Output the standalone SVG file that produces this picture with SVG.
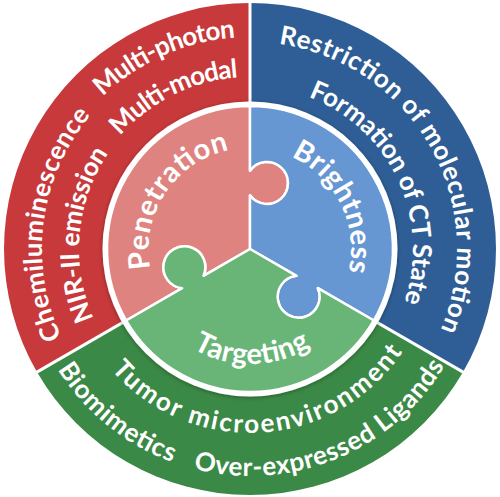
<svg xmlns="http://www.w3.org/2000/svg" xmlns:xlink="http://www.w3.org/1999/xlink" width="500" height="497" viewBox="0 0 500 497">
<defs>
<style>
.t{font-family:Lato,'Open Sans','DejaVu Sans',sans-serif;font-weight:700;fill:#fff}
.o{font-size:26px}
.i{font-size:29px}
.sep{stroke:#fff;stroke-width:3;fill:none}
.pc{stroke:#fff;stroke-width:2.5;stroke-linejoin:round}
</style>
<filter id="sh" x="-20%" y="-20%" width="140%" height="140%">
<feDropShadow dx="0" dy="1" stdDeviation="2" flood-color="#000" flood-opacity="0.35"/>
</filter>
<path id="piece" d="M0 0L-46.48 26.83A21 21 0 1 0 -67.84 39.17L-123.84 71.5A143 143 0 0 1 0 -143L0 -78.33A21 21 0 1 1 0 -53.67Z"/>
<path id="a1" d="M-147.27 -152.5A212 212 0 0 1 -14.79 -211.48"/>
<path id="a2" d="M-129.81 -112.85A172 172 0 0 1 -12 -171.58"/>
<path id="a3" d="M-188.51 87.9A208 208 0 0 1 -159.33 -133.7"/>
<path id="a4" d="M-156.21 69.55A171 171 0 0 1 -141.76 -95.62"/>
<path id="a5" d="M28.81 -204.99A207 207 0 0 1 190.54 80.88"/>
<path id="a6" d="M58.42 -152.18A163 163 0 0 1 154.12 53.07"/>
<path id="a7" d="M-99.9 17.6A101 101 0 0 1 -22.72 -98.41"/>
<path id="a8" d="M41.08 -92.27A101 101 0 0 1 98.41 22.72"/>
<path id="a9" d="M-57.5 99.6A115 115 0 0 0 60.94 97.53"/>
<path id="a10" d="M-138.86 120.72A184 184 0 0 0 152.54 102.89"/>
<path id="a11" d="M-192.5 120.29A227 227 0 0 0 -77.64 213.31"/>
<path id="a12" d="M-56.84 219.76A227 227 0 0 0 194.58 116.91"/>
</defs>
<g transform="translate(250,249)">
<g id="outer-red">
<path d="M0 0L-213.04 123A246 246 0 0 1 0 -246Z" fill="#C8393B"/>
<text class="t o"><textPath href="#a1" startOffset="50%" text-anchor="middle" textLength="148" lengthAdjust="spacing">Multi-photon</textPath></text>
<text class="t o"><textPath href="#a2" startOffset="50%" text-anchor="middle" textLength="135" lengthAdjust="spacing">Multi-modal</textPath></text>
<text class="t o"><textPath href="#a3" startOffset="50%" text-anchor="middle" textLength="236" lengthAdjust="spacing">Chemiluminescence</textPath></text>
<text class="t o"><textPath href="#a4" startOffset="50%" text-anchor="middle" textLength="173" lengthAdjust="spacing">NIR-II emission</textPath></text>
</g>
<g id="outer-blue">
<path d="M0 0L0 -246A246 246 0 0 1 213.04 123Z" fill="#2F5E96"/>
<text class="t o"><textPath href="#a5" startOffset="50%" text-anchor="middle" textLength="379" lengthAdjust="spacing">Restriction of molecular motion</textPath></text>
<text class="t o"><textPath href="#a6" startOffset="50%" text-anchor="middle" textLength="250" lengthAdjust="spacing">Formation of CT State</textPath></text>
</g>
<g id="outer-green">
<path d="M0 0L213.04 123A246 246 0 0 1 -213.04 123Z" fill="#3B8946"/>
<text class="t o"><textPath href="#a10" startOffset="50%" text-anchor="middle" textLength="337" lengthAdjust="spacing">Tumor microenvironment</textPath></text>
<text class="t o"><textPath href="#a11" startOffset="50%" text-anchor="middle" textLength="150" lengthAdjust="spacing">Biomimetics</textPath></text>
<text class="t o"><textPath href="#a12" startOffset="50%" text-anchor="middle" textLength="291" lengthAdjust="spacing">Over-expressed Ligands</textPath></text>
</g>
<g id="separators">
<line class="sep" x1="0" y1="0" x2="0" y2="-247"/>
<line class="sep" x1="0" y1="0" x2="214" y2="123.6"/>
<line class="sep" x1="0" y1="0" x2="-214" y2="123.6"/>
</g>
<circle id="inner-ring" r="147.5" fill="#fff" filter="url(#sh)"/>
<g id="piece-penetration">
<use href="#piece" class="pc" fill="#DE8380"/>
<text class="t i"><textPath href="#a7" startOffset="50%" text-anchor="middle" textLength="157" lengthAdjust="spacing">Penetration</textPath></text>
</g>
<g id="piece-brightness">
<use href="#piece" class="pc" fill="#6697D2" transform="rotate(120)"/>
<text class="t i"><textPath href="#a8" startOffset="50%" text-anchor="middle" textLength="139" lengthAdjust="spacing">Brightness</textPath></text>
</g>
<g id="piece-targeting">
<use href="#piece" class="pc" fill="#69B577" transform="rotate(240)"/>
<text class="t i"><textPath href="#a9" startOffset="50%" text-anchor="middle" textLength="124" lengthAdjust="spacing">Targeting</textPath></text>
</g>
</g>
</svg>
